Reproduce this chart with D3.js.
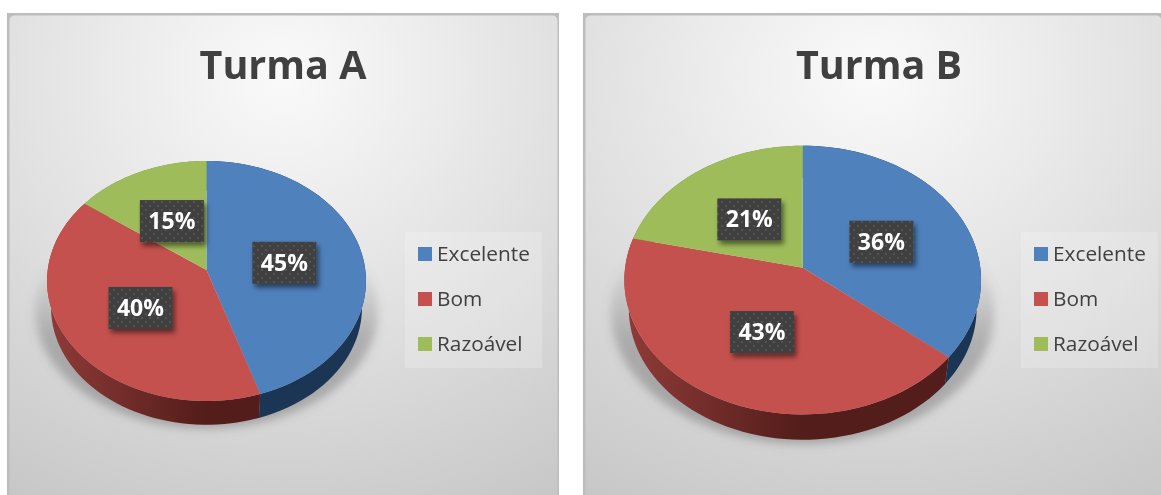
<!DOCTYPE html>
<html><head><meta charset="utf-8">
<script src="https://cdn.jsdelivr.net/npm/d3@7"></script>
<style>html,body{margin:0;padding:0;background:#fff;overflow:hidden}svg{display:block;filter:blur(.4px)}</style>
</head><body><svg id="c" width="1161" height="495"></svg>
<script>
const categories = ["Excelente", "Bom", "Razoável"];
const turmaAValues = [45, 40, 15];
const turmaBValues = [35.9, 42.7, 21.4];
const titles = ["Turma A", "Turma B"];
const colors = ["#4f81bd", "#c4514e", "#9ebd5a"];

const panels = [
  {title: titles[0], values: turmaAValues, x: 7, w: 552, cx: 206.5, cy: 270, R: 158.8, up: 109, down: 131, depth: 27, titleX: 283, legendX: 405, legendY: 232},
  {title: titles[1], values: turmaBValues, x: 583, w: 580, cx: 802.7, cy: 267.7, R: 177.6, up: 122, down: 146.7, depth: 29, titleX: 879, legendX: 1021, legendY: 232}
];
const svg = d3.select("#c");
const defs = svg.append("defs");
const bg = defs.append("radialGradient").attr("id","bg").attr("cx",0.5).attr("cy",0.12).attr("r",1.05);
bg.append("stop").attr("offset",0).attr("stop-color","#fafafa");
bg.append("stop").attr("offset",0.5).attr("stop-color","#e0e0e0");
bg.append("stop").attr("offset",1).attr("stop-color","#c4c4c4");
const dots = defs.append("pattern").attr("id","dots").attr("width",8).attr("height",8).attr("patternUnits","userSpaceOnUse");
dots.append("rect").attr("width",8).attr("height",8).attr("fill","#3f3f3f");
dots.append("circle").attr("cx",2).attr("cy",2).attr("r",0.9).attr("fill","#5c5c5c");
dots.append("circle").attr("cx",6).attr("cy",6).attr("r",0.9).attr("fill","#5c5c5c");
defs.append("filter").attr("id","blur").attr("x","-20%").attr("y","-20%").attr("width","140%").attr("height","140%")
  .append("feGaussianBlur").attr("stdDeviation",5);
const ds = defs.append("filter").attr("id","ds").attr("x","-20%").attr("y","-20%").attr("width","150%").attr("height","160%");
ds.append("feDropShadow").attr("dx",2.5).attr("dy",4).attr("stdDeviation",2.5).attr("flood-color","#000").attr("flood-opacity",0.5);

const font = "'Open Sans', sans-serif";

panels.forEach((p, pi) => {
  const g = svg.append("g");
  g.append("rect").attr("x",p.x).attr("y",13).attr("width",p.w).attr("height",495).attr("fill","#bdbdbd");
  g.append("rect").attr("x",p.x+2.5).attr("y",15.5).attr("width",p.w-4).attr("height",490).attr("rx",5).attr("fill","url(#bg)");

  // perspective projection of the unit disc onto the tilted pie
  const k = (p.up - p.down) / (p.up + p.down);
  const S = p.down * (1 + k);
  const proj = (a, f = 1, shrink = 1, drop = 0) => {
    const u = Math.sin(a) * f, v = -Math.cos(a) * f, d = 1 + k * v;
    return [p.cx + p.R * shrink * u / d, p.cy + S * shrink * v / d + drop];
  };
  // ground shadow
  const sid = "sh" + pi;
  const sg = defs.append("linearGradient").attr("id",sid).attr("x1",0).attr("x2",0).attr("y1",0).attr("y2",1);
  sg.append("stop").attr("offset",0.3).attr("stop-color","#666").attr("stop-opacity",0);
  sg.append("stop").attr("offset",0.62).attr("stop-color","#666").attr("stop-opacity",0.4);
  sg.append("stop").attr("offset",1).attr("stop-color","#666").attr("stop-opacity",0.45);
  g.append("ellipse").attr("cx",p.cx).attr("cy",p.cy + (p.down-p.up)/2 + p.depth + 3)
    .attr("rx",p.R*1.08).attr("ry",(p.up+p.down)/2*0.98)
    .attr("fill",`url(#${sid})`).attr("filter","url(#blur)");

  const arcs = d3.pie().sort(null).value(d => d)(p.values);
  const line = d3.line();
  const sample = (a0, a1) => d3.range(0, 61).map(i => a0 + (a1 - a0) * i / 60);
  const gid = "side" + pi;
  const lg = defs.append("linearGradient").attr("id",gid).attr("gradientUnits","userSpaceOnUse")
    .attr("x1",p.cx-p.R).attr("x2",p.cx).attr("y1",0).attr("y2",0);
  lg.append("stop").attr("offset",0).attr("stop-color","#8f3b38");
  lg.append("stop").attr("offset",1).attr("stop-color","#521d1a");
  const sideFill = ["#1b3655", `url(#${gid})`, "#6f8a3a"];

  arcs.forEach((d, i) => {
    const as = sample(d.startAngle, d.endAngle);
    const pts = as.map(a => proj(a)).concat(as.slice().reverse().map(a => proj(a, 1, 0.975, p.depth)));
    g.append("path").attr("d", line(pts) + "Z").attr("fill", sideFill[i]);
  });
  arcs.forEach((d, i) => {
    const as = sample(d.startAngle, d.endAngle);
    const pts = [[p.cx, p.cy]].concat(as.map(a => proj(a)));
    g.append("path").attr("d", line(pts) + "Z").attr("fill", colors[i]);
  });
  // data labels
  arcs.forEach((d, i) => {
    const [x, y0] = proj((d.startAngle + d.endAngle) / 2, 0.5);
    const y = y0 + 2;
    g.append("rect").attr("x",x-32).attr("y",y-21).attr("width",64).attr("height",42)
      .attr("fill","url(#dots)").attr("filter","url(#ds)");
    g.append("text").attr("x",x).attr("y",y+8).attr("text-anchor","middle")
      .attr("font-family",font).attr("font-weight",700).attr("font-size",23).attr("fill","#fff")
      .text(d3.format(".0f")(d.data) + "%");
  });
  g.append("text").attr("x",p.titleX).attr("y",79).attr("text-anchor","middle")
    .attr("font-family",font).attr("font-weight",700).attr("font-size",39.5).attr("fill","#404040").text(p.title);
  const lg2 = g.append("g").attr("transform",`translate(${p.legendX},${p.legendY})`);
  lg2.append("rect").attr("width",137).attr("height",136).attr("fill","#fff").attr("fill-opacity",0.2);
  const ly = d3.scalePoint().domain(categories).range([22, 112]);
  categories.forEach((c, i) => {
    lg2.append("rect").attr("x",13).attr("y",ly(c)-7).attr("width",14).attr("height",14).attr("fill",colors[i]);
    lg2.append("text").attr("x",32).attr("y",ly(c)+7).attr("font-family",font).attr("font-size",20.8)
      .attr("fill","#404040").text(c);
  });
});
</script></body></html>
